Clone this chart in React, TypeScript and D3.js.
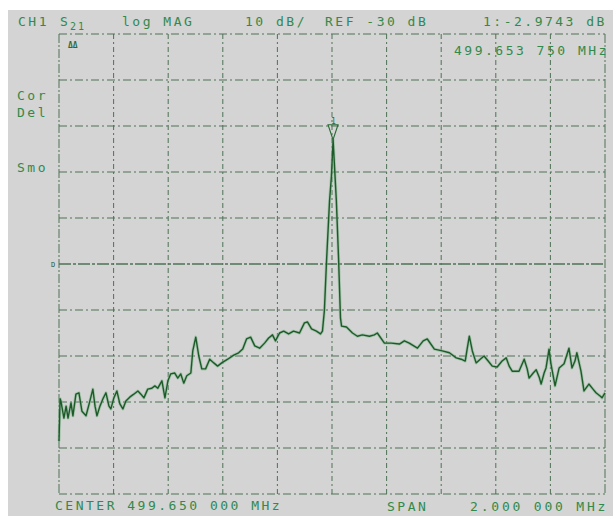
import React from 'react';
import * as d3 from 'd3';

// analyzer settings
const CENTER_MHZ = 499.65;
const SPAN_MHZ = 2;
const REF_DB = -30;
const DB_PER_DIV = 10;
const DIVISIONS = 10;

// S21 trace: offset from start frequency (kHz) and level (dB)
const traceKHz = [
  0, 4, 7, 18, 26, 33, 44, 51, 62, 73, 84, 99, 113, 124, 132, 139, 150, 161, 172, 183,
  190, 201, 212, 223, 234, 245, 260, 274, 289, 300, 311, 325, 340, 351, 362, 377, 388, 399, 409, 424,
  435, 446, 457, 468, 483, 490, 501, 512, 523, 537, 552, 567, 581, 596, 618, 640, 658, 673, 687, 702,
  717, 735, 753, 768, 782, 793, 808, 823, 841, 859, 881, 899, 910, 925, 943, 958, 965, 972, 980, 991,
  998, 1004, 1016, 1024, 1031, 1035, 1053, 1075, 1093, 1111, 1137, 1155, 1166, 1192, 1217, 1247, 1265, 1283, 1313, 1334,
  1349, 1375, 1404, 1430, 1455, 1473, 1488, 1495, 1503, 1514, 1528, 1543, 1557, 1572, 1587, 1605, 1623, 1638, 1649, 1660,
  1685, 1704, 1715, 1722, 1737, 1748, 1759, 1766, 1777, 1784, 1795, 1802, 1817, 1832, 1850, 1868, 1879, 1890, 1897, 1912,
  1923, 1941, 1956, 1967, 1982, 1989, 2000,
];
const traceDb = [
  -68.5, -59.3, -59.8, -63.5, -60.9, -63.5, -60.2, -63.0, -58.3, -58.0, -62.0, -63.0, -59.8, -57.2, -60.9, -63.0, -60.9, -59.3, -58.0, -60.9,
  -61.5, -59.1, -57.6, -60.4, -61.5, -59.8, -58.9, -58.3, -57.6, -58.3, -59.1, -57.2, -57.0, -56.5, -57.0, -55.4, -59.1, -55.4, -53.9, -53.7,
  -54.8, -53.9, -55.9, -54.3, -53.7, -48.9, -45.9, -50.0, -52.8, -52.8, -50.7, -51.5, -52.2, -51.5, -50.7, -49.8, -49.3, -48.5, -46.3, -45.9,
  -47.8, -48.3, -47.2, -46.1, -45.4, -46.7, -45.0, -44.6, -45.2, -44.6, -45.0, -42.8, -42.6, -44.1, -44.6, -45.2, -44.6, -40.2, -29.3, -16.3,
  -10.9, -3.0, -16.3, -28.7, -41.7, -43.5, -43.7, -45.0, -45.7, -45.4, -45.7, -45.4, -45.0, -47.2, -47.2, -47.4, -46.7, -47.2, -48.3, -46.7,
  -46.3, -48.5, -48.9, -49.3, -50.4, -50.7, -51.1, -48.5, -45.7, -48.9, -51.5, -50.7, -50.0, -51.1, -52.2, -52.4, -51.1, -50.4, -52.2, -53.3,
  -53.3, -50.7, -52.8, -54.8, -53.7, -53.0, -54.6, -56.1, -53.7, -52.6, -48.5, -51.7, -56.5, -52.6, -51.7, -48.3, -52.6, -51.1, -49.3, -53.3,
  -57.6, -56.1, -57.2, -58.0, -58.7, -59.1, -58.0,
];

// marker 1
const markerMHz = 499.65375;
const markerDb = -2.9743;

// screen annotations
const headerLabels = ['CH1', 'log MAG', '10 dB/', 'REF -30 dB', '1:-2.9743 dB'];
const markerFreqLabel = '499.653 750 MHz';
const sideLabels = ['Cor', 'Del', 'Smo'];
const footerLabels = ['CENTER  499.650 000 MHz', 'SPAN', '2.000 000 MHz'];

const W = 613;
const H = 516;
const plot = { left: 59, right: 605, top: 34, bottom: 494 };

const textGreen = '#33894a';
const gridColor = '#2f5a38';
const mono = '"DejaVu Sans Mono", monospace';

export default function App() {
  const startMHz = CENTER_MHZ - SPAN_MHZ / 2;
  const x = d3.scaleLinear().domain([startMHz, startMHz + SPAN_MHZ]).range([plot.left, plot.right]);
  const y = d3
    .scaleLinear()
    .domain([REF_DB + (DIVISIONS / 2) * DB_PER_DIV, REF_DB - (DIVISIONS / 2) * DB_PER_DIV])
    .range([plot.top, plot.bottom]);

  const points: [number, number][] = traceKHz.map((k, i) => [startMHz + k / 1000, traceDb[i]]);
  const line = d3
    .line<[number, number]>()
    .x((d) => x(d[0]))
    .y((d) => y(d[1]));
  const path = line(points) || '';

  const vTicks = d3.range(DIVISIONS + 1).map((i) => startMHz + (i * SPAN_MHZ) / DIVISIONS);
  const hTicks = d3.range(DIVISIONS + 1).map((i) => y.domain()[0] - i * DB_PER_DIV);

  const mx = x(markerMHz);
  const my = y(markerDb);

  const txt = { fontFamily: mono, fontSize: 13, letterSpacing: 2.5, fill: textGreen } as const;

  return (
    <svg width={W} height={H} style={{ position: 'absolute', left: 0, top: 0 }}>
      <rect x={0} y={0} width={W} height={H} fill="#ffffff" />
      <rect x={8} y={10} width={W - 8} height={H - 10} fill="#d3d4d3" />

      {/* graticule */}
      <g stroke={gridColor} strokeWidth={1} opacity={0.8}>
        {vTicks.map((f, i) => (
          <line
            key={'v' + i}
            x1={x(f)}
            x2={x(f)}
            y1={plot.top}
            y2={plot.bottom}
            strokeDasharray={i === 0 || i === DIVISIONS ? '9 2 2 2' : '5 3 2 3'}
          />
        ))}
        {hTicks.map((v, i) => (
          <line
            key={'h' + i}
            x1={plot.left}
            x2={plot.right}
            y1={y(v)}
            y2={y(v)}
            strokeWidth={v === REF_DB ? 1.4 : 1}
            strokeDasharray={v === REF_DB ? '12 2 3 2' : '8 3 2 3'}
          />
        ))}
      </g>

      {/* trace */}
      <path d={path} fill="none" stroke="#7fb48a" strokeWidth={3} opacity={0.55} strokeLinejoin="round" />
      <path d={path} fill="none" stroke="#1d5a29" strokeWidth={1.4} strokeLinejoin="round" />

      {/* marker 1 */}
      <path
        d={`M${mx - 5},${my - 15}L${mx + 5},${my - 15}L${mx},${my}Z`}
        fill="none"
        stroke="#2a6a36"
        strokeWidth={1.1}
      />
      <text x={mx - 2} y={my - 16} fontFamily={mono} fontSize={8} fill="#2a6a36">
        1
      </text>

      {/* reference position */}
      <text x={51} y={y(REF_DB) + 3} fontFamily={mono} fontSize={7} fill={gridColor}>
        D
      </text>

      {/* header */}
      <text {...txt} x={18} y={26}>{headerLabels[0]}</text>
      <text {...txt} x={60} y={26}>S</text>
      <text {...txt} x={70} y={30} fontSize={10} letterSpacing={2}>21</text>
      <text {...txt} x={122} y={26}>{headerLabels[1]}</text>
      <text {...txt} x={245} y={26}>{headerLabels[2]}</text>
      <text {...txt} x={325} y={26}>{headerLabels[3]}</text>
      <text {...txt} x={483} y={26}>{headerLabels[4]}</text>
      <text {...txt} x={454} y={55}>{markerFreqLabel}</text>
      <text x={68} y={48} fontFamily={mono} fontSize={8} fontWeight="bold" fill="#2a6a36" letterSpacing={0}>
        ΔΔ
      </text>

      {/* side annotations */}
      <text {...txt} x={17} y={100}>{sideLabels[0]}</text>
      <text {...txt} x={17} y={117}>{sideLabels[1]}</text>
      <text {...txt} x={17} y={172}>{sideLabels[2]}</text>

      {/* footer */}
      <text {...txt} x={55} y={510}>{footerLabels[0]}</text>
      <text {...txt} x={387} y={511}>{footerLabels[1]}</text>
      <text {...txt} x={470} y={511} letterSpacing={2.8}>{footerLabels[2]}</text>
    </svg>
  );
}
